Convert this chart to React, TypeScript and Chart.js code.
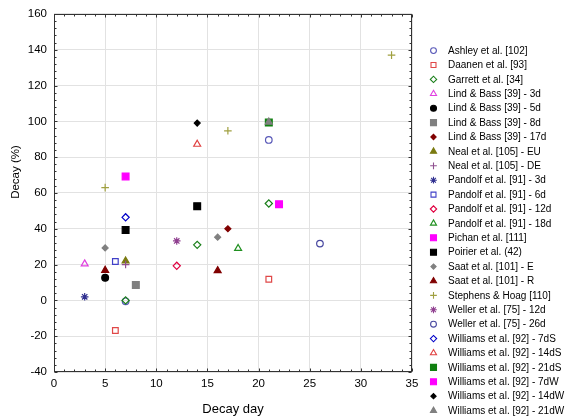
import React, { useEffect, useRef } from 'react';
import { Chart, registerables } from 'chart.js';
import { drawPoint } from 'chart.js/helpers';

Chart.register(...registerables);

// ---- Data (x = decay day, y = decay %) ----
const seriesLabels = [
  'Ashley et al. [102]',
  'Daanen et al. [93]',
  'Garrett et al. [34]',
  'Lind & Bass [39] - 3d',
  'Lind & Bass [39] - 5d',
  'Lind & Bass [39] - 8d',
  'Lind & Bass [39] - 17d',
  'Neal et al. [105] - EU',
  'Neal et al. [105] - DE',
  'Pandolf et al. [91] - 3d',
  'Pandolf et al. [91] - 6d',
  'Pandolf et al. [91] - 12d',
  'Pandolf et al. [91] - 18d',
  'Pichan et al. [111]',
  'Poirier et al. (42)',
  'Saat et al. [101] - E',
  'Saat et al. [101] - R',
  'Stephens & Hoag [110]',
  'Weller et al. [75] - 12d',
  'Weller et al. [75] - 26d',
  'Williams et al. [92] - 7dS',
  'Williams et al. [92] - 14dS',
  'Williams et al. [92] - 21dS',
  'Williams et al. [92] - 7dW',
  'Williams et al. [92] - 14dW',
  'Williams et al. [92] - 21dW',
];

const ashley = [[7, -0.5], [21, 89.6]];
const daanen = [[6, -16.8], [21, 11.8]];
const garrett = [[7, 0], [14, 31], [21, 54.1]];
const lindBass3d = [[3, 20.4]];
const lindBass5d = [[5, 12.6]];
const lindBass8d = [[8, 8.6]];
const lindBass17d = [[17, 40]];
const nealEU = [[7, 22]];
const nealDE = [[7, 20]];
const pandolf3d = [[3, 2]];
const pandolf6d = [[6, 21.7]];
const pandolf12d = [[12, 19.3]];
const pandolf18d = [[18, 29]];
const pichan = [[22, 53.7]];
const poirier = [[7, 39.3], [14, 52.6]];
const saatE = [[5, 29.3], [16, 35.3]];
const saatR = [[5, 16.8], [16, 16.6]];
const stephensHoag = [[5, 63], [17, 94.7], [33, 137]];
const weller12d = [[12, 33.2]];
const weller26d = [[26, 31.7]];
const williams7dS = [[7, 46.4]];
const williams14dS = [[14, 87.2]];
const williams21dS = [[21, 99.3]];
const williams7dW = [[7, 69.2]];
const williams14dW = [[14, 99]];
const williams21dW = [[21, 99.6]];

const seriesValues = [
  ashley, daanen, garrett, lindBass3d, lindBass5d, lindBass8d, lindBass17d,
  nealEU, nealDE, pandolf3d, pandolf6d, pandolf12d, pandolf18d, pichan,
  poirier, saatE, saatR, stephensHoag, weller12d, weller26d, williams7dS,
  williams14dS, williams21dS, williams7dW, williams14dW, williams21dW,
];

const xTicks = [0, 5, 10, 15, 20, 25, 30, 35];
const yTicks = [-40, -20, 0, 20, 40, 60, 80, 100, 120, 140, 160];

// ---- Marker styles (kept apart from data) ----
type Mk = { s: string; c: string; f: boolean; r: number };
const markers: Mk[] = [
  { s: 'circle', c: '#5858b8', f: false, r: 3.3 },
  { s: 'rect', c: '#e04848', f: false, r: 4 },
  { s: 'rectRot', c: '#1a7f1a', f: false, r: 3.6 },
  { s: 'triangle', c: '#e040e0', f: false, r: 4 },
  { s: 'circle', c: '#000000', f: true, r: 3.4 },
  { s: 'rect', c: '#808080', f: true, r: 4.8 },
  { s: 'rectRot', c: '#800000', f: true, r: 3 },
  { s: 'triangle', c: '#7a7a10', f: true, r: 4 },
  { s: 'cross', c: '#905090', f: false, r: 3.8 },
  { s: 'star', c: '#303090', f: false, r: 3.8 },
  { s: 'rect', c: '#4040c8', f: false, r: 4 },
  { s: 'rectRot', c: '#e00040', f: false, r: 3.6 },
  { s: 'triangle', c: '#209020', f: false, r: 4 },
  { s: 'rect', c: '#ff00ff', f: true, r: 4.8 },
  { s: 'rect', c: '#000000', f: true, r: 4.8 },
  { s: 'rectRot', c: '#808080', f: true, r: 3 },
  { s: 'triangle', c: '#800000', f: true, r: 4 },
  { s: 'cross', c: '#a0a040', f: false, r: 3.8 },
  { s: 'star', c: '#904090', f: false, r: 3.8 },
  { s: 'circle', c: '#4848a0', f: false, r: 3.3 },
  { s: 'rectRot', c: '#0000c8', f: false, r: 3.6 },
  { s: 'triangle', c: '#e04040', f: false, r: 4 },
  { s: 'rect', c: '#108010', f: true, r: 4.8 },
  { s: 'rect', c: '#ff00ff', f: true, r: 4.8 },
  { s: 'rectRot', c: '#000000', f: true, r: 3 },
  { s: 'triangle', c: '#808080', f: true, r: 4 },
];

const FONT = "'Liberation Sans', Arial, sans-serif";

const decorPlugin = {
  id: 'decor',
  afterDraw(chart: any) {
    const { ctx, chartArea: a, scales } = chart;
    const x = scales.x;
    const y = scales.y;
    const L = Math.round(a.left) + 0.5;
    const R = Math.round(a.right) - 0.5;
    const T = Math.round(a.top) + 0.5;
    const B = Math.round(a.bottom) - 0.5;
    ctx.save();
    ctx.strokeStyle = '#333333';
    ctx.lineWidth = 1;
    ctx.strokeRect(L, T, R - L, B - T);
    ctx.beginPath();
    for (let v = 0; v <= 35; v += 1) {
      const px = Math.round(x.getPixelForValue(v)) + 0.5;
      const len = v % 5 === 0 ? 3 : 2;
      ctx.moveTo(px, B); ctx.lineTo(px, B - len);
      ctx.moveTo(px, T); ctx.lineTo(px, T + len);
    }
    for (let v = -40; v <= 160; v += 4) {
      const py = Math.round(y.getPixelForValue(v)) + 0.5;
      const len = v % 20 === 0 ? 3 : 2;
      ctx.moveTo(L, py); ctx.lineTo(L + len, py);
      ctx.moveTo(R, py); ctx.lineTo(R - len, py);
    }
    ctx.stroke();

    // axis titles
    ctx.fillStyle = '#000';
    ctx.textAlign = 'center';
    ctx.textBaseline = 'middle';
    ctx.font = `13px ${FONT}`;
    ctx.fillText('Decay day', (a.left + a.right) / 2, 409);
    ctx.save();
    ctx.translate(16, 172);
    ctx.rotate(-Math.PI / 2);
    ctx.font = `11.5px ${FONT}`;
    ctx.fillText('Decay (%)', 0, 0);
    ctx.restore();

    // legend
    ctx.font = `10px ${FONT}`;
    ctx.textAlign = 'left';
    seriesLabels.forEach((label, i) => {
      const m = markers[i];
      const cy = 50.6 + 14.4 * i;
      ctx.fillStyle = m.f ? m.c : 'rgba(0,0,0,0)';
      ctx.strokeStyle = m.c;
      ctx.lineWidth = 1.1;
      drawPoint(ctx, { pointStyle: m.s, rotation: 0, radius: m.r * 0.88, borderWidth: 1.1 } as any, 433.5, cy);
      ctx.fillStyle = '#000';
      ctx.fillText(label, 448, cy + 0.5);
    });
    ctx.restore();
  },
};

export default function App() {
  const ref = useRef<HTMLCanvasElement | null>(null);
  useEffect(() => {
    if (!ref.current) return;
    const datasets = seriesValues.map((pts, i) => {
      const m = markers[i];
      return {
        label: seriesLabels[i],
        data: pts.map(([px, py]) => ({ x: px, y: py })),
        showLine: false,
        pointStyle: m.s,
        pointRadius: m.r,
        pointHoverRadius: m.r,
        pointBorderWidth: 1.2,
        pointBorderColor: m.c,
        pointBackgroundColor: m.f ? m.c : 'rgba(0,0,0,0)',
        order: -i,
      };
    });
    const chart = new Chart(ref.current, {
      type: 'scatter',
      data: { datasets: datasets as any },
      options: {
        animation: false,
        responsive: true,
        maintainAspectRatio: false,
        layout: { padding: { left: 0, right: 154, top: 6, bottom: 0 } },
        plugins: { legend: { display: false }, tooltip: { enabled: false } },
        scales: {
          x: {
            type: 'linear',
            min: xTicks[0],
            max: xTicks[xTicks.length - 1],
            afterBuildTicks: (s: any) => { s.ticks = xTicks.map((v) => ({ value: v })); },
            afterFit: (s: any) => { s.height = 46; },
            ticks: { padding: 5, color: '#000', font: { family: FONT, size: 11.5 } },
            grid: { color: '#e2e2e2', drawTicks: false },
            border: { display: false },
          },
          y: {
            type: 'linear',
            min: yTicks[0],
            max: yTicks[yTicks.length - 1],
            afterBuildTicks: (s: any) => { s.ticks = yTicks.map((v) => ({ value: v })); },
            afterFit: (s: any) => { s.width = 54; },
            ticks: { padding: 7, color: '#000', font: { family: FONT, size: 11.5 } },
            grid: { color: '#e2e2e2', drawTicks: false },
            border: { display: false },
          },
        },
      },
      plugins: [decorPlugin],
    });
    return () => chart.destroy();
  }, []);
  return (
    <div style={{ position: 'absolute', left: 0, top: 0, width: 566, height: 418, background: '#fff' }}>
      <canvas ref={ref} />
    </div>
  );
}
